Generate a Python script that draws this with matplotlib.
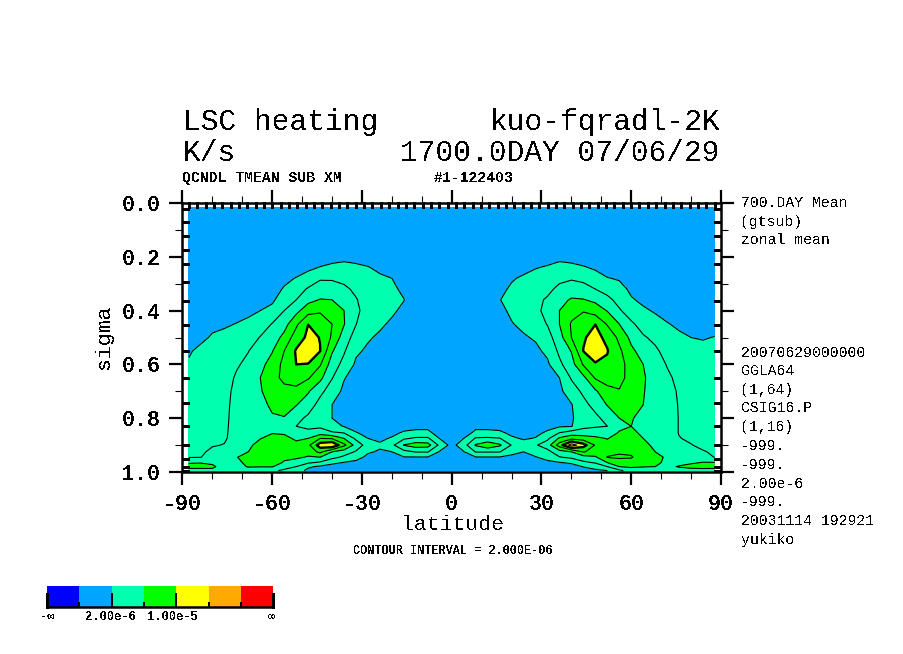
import numpy as np
import matplotlib
matplotlib.use("Agg")
import matplotlib.pyplot as plt
from matplotlib.colors import ListedColormap

plt.rcParams["text.antialiased"] = False
plt.rcParams["lines.antialiased"] = False
plt.rcParams["font.family"] = ["Liberation Mono", "DejaVu Sans Mono"]

# zonal mean heating (units of 1e-6 K/s)
lat = [-87.9, -84, -80, -76, -72, -68, -64, -60, -56, -52, -48, -44, -40, -36, -32, -28, -24, -20, -16, -12, -8, -4, 0,
       4, 8, 12, 16, 20, 24, 28, 32, 36, 40, 44, 48, 52, 56, 60, 64, 68, 72, 76, 80, 84, 87.9]
sigma = [0.016, 0.15, 0.20, 0.24, 0.28, 0.32, 0.36, 0.40, 0.45, 0.50, 0.55, 0.60, 0.65, 0.70, 0.75, 0.80, 0.83, 0.855,
         0.875, 0.90, 0.925, 0.945, 0.965, 0.98, 0.995]

# one list per latitude, top to bottom
heating = [
    [0, .1, .2, .3, .4, .5, .6, .8, 1, 1.3, 1.8, 2.2, 2.5, 2.8, 3, 3.2, 3.3, 3.4, 3.5, 3.6, 3.8, 3.9, 5.8, 6.8, 5],
    [0, .1, .2, .3, .4, .5, .7, .9, 1.2, 1.6, 2.4, 2.7, 2.9, 3, 3.1, 3.2, 3.3, 3.4, 3.5, 3.6, 3.75, 3.95, 5.9, 6.8, 5],
    [0, .1, .2, .3, .5, .6, .8, 1, 1.6, 2.2, 2.6, 2.9, 3.1, 3.2, 3.3, 3.4, 3.5, 3.6, 3.7, 3.9, 4.3, 4.6, 5.6, 6.4, 5.5],
    [0, .1, .2, .3, .5, .7, .9, 1.1, 1.8, 2.4, 2.8, 3.1, 3.3, 3.5, 3.6, 3.7, 3.75, 3.8, 3.85, 4.05, 4.3, 4.5, 4.7, 5, 4.5],
    [0, .1, .2, .4, .6, .8, 1, 1.4, 2.05, 2.6, 3.1, 3.8, 4.2, 4.4, 4.5, 4.5, 4.5, 4.5, 4.5, 4.6, 4.8, 5.9, 5.2, 5, 4.5],
    [0, .1, .2, .4, .6, .7, 1, 1.6, 2.4, 3.1, 3.95, 4.4, 4.7, 4.8, 4.8, 4.7, 4.6, 4.7, 4.9, 5.4, 6, 6.8, 6.8, 6.2, 4.5],
    [0, .1, .3, .4, .6, .9, 1.4, 2, 3, 4.1, 4.9, 5.5, 6, 5.8, 5.2, 4.7, 4.6, 5, 5.9, 7, 7.3, 7.2, 7, 6.1, 4.5],
    [0, .1, .3, .5, .9, 1.2, 1.7, 2.5, 4.1, 4.9, 5.9, 6.7, 7.3, 7.1, 6.5, 5.7, 5.3, 5.9, 6.8, 7.2, 7.2, 7.1, 6.9, 6.1, 4.5],
    [0, .1, .4, .9, 1.5, 2.2, 3, 4, 5.2, 6.6, 8, 8.6, 8.5, 7.4, 6.7, 5.9, 5.2, 5.8, 6.5, 7, 6.9, 6.4, 5.8, 5, 3.5],
    [0, .1, .5, 1.1, 2.1, 3.1, 4, 5.4, 7.6, 9, 10.2, 10, 8.8, 7.5, 6.1, 4.6, 4, 5, 5.7, 6.5, 6.8, 6.4, 5, 4, 3],
    [0, .1, .7, 1.6, 2.8, 4.2, 5.4, 7.2, 9.98, 10.4, 11.5, 9.9, 8.2, 6.2, 5, 3.6, 3.7, 4.4, 6, 7.5, 6.8, 5.8, 4.3, 2.3, 1.5],
    [0, .2, .9, 2.1, 3.8, 4.9, 6.1, 7.6, 9.8, 9.95, 10.05, 8.2, 6.5, 4.5, 3.3, 3, 3.6, 5.2, 8, 11, 8.5, 6, 3.7, 1.7, 1],
    [0, .2, 1.2, 2.5, 3.8, 4.8, 6, 7, 8, 7.7, 6.2, 5, 4.1, 3, 2, 2, 2.6, 4.3, 7.8, 11.8, 6, 4.6, 2.5, 1.2, .8],
    [0, .2, 1.5, 2.6, 3.6, 4.3, 5, 6, 6.1, 5, 4.2, 3.4, 2.1, 1.6, 1.5, 1.6, 1.9, 4, 6, 8.5, 5, 3.6, 1.9, 1.1, .7],
    [0, .2, 1.5, 2.3, 3.1, 3.7, 4.1, 4.4, 4.05, 3.2, 2.3, 1.7, 1.3, 1.1, 1.1, 1.2, 1.5, 2.1, 3.6, 5.2, 3.8, 2.6, 1.6, 1, .6],
    [0, .2, 1.2, 2.1, 2.7, 3.1, 3.3, 3.2, 2.7, 2.2, 1.7, 1.3, 1, .9, .9, 1, 1.2, 1.6, 2, 3.1, 2.2, 1.6, 1.1, .8, .5],
    [0, .1, .8, 1.6, 2.3, 2.7, 2.9, 2.8, 2.3, 1.7, 1.2, .9, .7, .6, .6, .7, .9, 1.2, 1.6, 2.3, 1.8, 1.3, .9, .6, .4],
    [0, .1, .5, 1.1, 2, 2.4, 2.6, 2.3, 1.7, 1.2, .8, .6, .5, .4, .4, .6, 1, 1.5, 2.2, 3.5, 2, 1.2, .8, .5, .3],
    [0, .1, .3, .7, 1.2, 1.6, 2.05, 1.6, 1.1, .7, .5, .4, .3, .3, .3, .5, 1.2, 2.3, 3.7, 6.1, 3.4, 1.9, 1, .6, .3],
    [0, 0, .1, .3, .5, .7, .8, .7, .5, .4, .3, .2, .2, .2, .2, .5, 1.4, 2.6, 4.3, 7, 4.1, 1.9, 1, .6, .3],
    [0, 0, .1, .2, .3, .4, .4, .4, .3, .3, .2, .2, .2, .2, .2, .5, 1.4, 2.6, 4.3, 6.8, 4.1, 1.9, 1, .6, .3],
    [0, 0, 0, .1, .1, .2, .2, .2, .2, .2, .1, .1, .1, .1, .1, .2, .5, 1, 1.9, 3.5, 1.8, 1, .6, .4, .2],
    [0, 0, 0, 0, .1, .1, .1, .1, .1, .1, .1, .1, .1, .1, .1, .1, .2, .5, .8, 1.3, .8, .5, .3, .2, .1],
    [0, 0, 0, .1, .1, .2, .2, .2, .2, .2, .1, .1, .1, .1, .1, .2, .3, .9, 2, 3.2, 1.9, 1, .6, .4, .2],
    [0, 0, .1, .2, .3, .4, .4, .4, .3, .3, .2, .2, .2, .2, .2, .5, 1.4, 2.6, 4.2, 6.2, 4.1, 1.9, 1, .6, .3],
    [0, 0, .1, .3, .4, .6, .7, .6, .5, .4, .3, .2, .2, .2, .2, .5, 1.4, 2.6, 4.3, 7.5, 4.1, 1.9, 1, .6, .3],
    [0, .1, .3, .6, 1.1, 1.5, 1.95, 1.6, 1.1, .7, .5, .4, .3, .3, .3, .5, 1.3, 2.4, 4.1, 6.3, 4.1, 1.9, 1, .6, .3],
    [0, .1, .4, .9, 1.8, 2.3, 2.5, 2.3, 1.9, 1.3, .9, .6, .5, .4, .4, .6, 1, 1.6, 2.3, 3.9, 2.4, 1.7, .9, .6, .3],
    [0, .1, .6, 1.4, 2.3, 2.8, 3, 2.9, 2.4, 1.8, 1.3, 1, .8, .6, .6, .8, .9, 1.2, 1.8, 2.8, 2, 1.4, .9, .6, .4],
    [0, .2, .9, 1.9, 2.7, 3.2, 3.6, 3.6, 3.1, 2.2, 1.6, 1.2, 1, .8, .8, 1, 1.2, 1.6, 2.1, 3.8, 2.7, 1.9, 1.2, .8, .5],
    [0, .2, 1.2, 2.2, 3, 3.6, 4.2, 4.5, 4.1, 3.2, 2.4, 1.7, 1.3, 1.1, 1.1, 1.2, 1.5, 2.3, 3.6, 5, 3.4, 2.6, 1.6, 1, .6],
    [0, .2, 1.6, 2.5, 3.6, 4.4, 5.4, 6, 6, 5.2, 4.4, 3.6, 2, 1.6, 1.4, 1.5, 1.8, 4.1, 6.3, 9, 5.2, 3.9, 1.9, 1.1, .7],
    [0, .2, 1.3, 2.5, 3.8, 5, 6.2, 7.3, 8.2, 8, 6.1, 5.2, 4.2, 3, 1.9, 1.8, 1.9, 5, 7.4, 13, 6, 4.4, 2.3, 1.2, .8],
    [0, .2, .9, 2.2, 3.6, 4.6, 6.1, 7.8, 9.7, 9.85, 10.05, 8.2, 5.5, 4.4, 3.4, 2.9, 3.5, 5, 7, 10.8, 8.1, 5.2, 3.6, 2.1, 1.1],
    [0, .1, .7, 1.7, 2.9, 4, 5.6, 7, 9.98, 10.5, 11.2, 9.8, 8.2, 5.7, 4.7, 3.5, 3.8, 5.1, 6.4, 7.8, 7.5, 5.7, 4.2, 2.6, 1.7],
    [0, .1, .4, 1, 2.1, 3.3, 4.5, 5.9, 7.8, 9.6, 10.1, 9.7, 8.8, 7.4, 6.1, 4.7, 4, 5, 5.9, 6.7, 7.4, 8.1, 6, 4, 2],
    [0, .1, .3, .8, 1.8, 2.7, 3.4, 4.2, 6, 7.5, 8.4, 8.7, 8.5, 7.9, 6.8, 6, 5.5, 6.2, 6.8, 7.2, 7.7, 8.4, 6.8, 6, 3.5],
    [0, .1, .2, .5, 1, 1.6, 2.2, 3.1, 4.3, 5.5, 6.4, 7.2, 7.4, 7.1, 6.7, 6.2, 6, 6.5, 6.9, 7.2, 7.6, 8.2, 7, 6.3, 5],
    [0, 0, .1, .3, .6, 1, 1.6, 2.3, 3.3, 4.2, 5.2, 6, 6.2, 6.1, 6, 5.2, 5.2, 5.6, 6, 6.5, 6.8, 6.8, 6.6, 6.1, 4.8],
    [0, 0, .1, .2, .4, .7, 1.2, 1.8, 2.7, 3.6, 4.3, 4.8, 5.2, 5.3, 5.3, 5.2, 5, 5.1, 5.3, 5.6, 6, 6.4, 6.4, 6, 4.6],
    [0, 0, .1, .2, .3, .5, .9, 1.4, 2.1, 2.8, 3.4, 3.9, 4.3, 4.6, 4.7, 4.6, 4.6, 4.6, 4.8, 5, 5.4, 5.8, 5.6, 5.4, 4.4],
    [0, 0, .1, .2, .3, .4, .7, 1.1, 1.7, 2.3, 2.8, 3.2, 3.6, 3.8, 3.9, 3.95, 3.95, 3.95, 4.05, 4.3, 4.5, 4.7, 5.2, 6.2, 4.8],
    [0, 0, .1, .1, .2, .3, .5, .9, 1.4, 2, 2.5, 2.8, 3, 3.2, 3.3, 3.4, 3.5, 3.6, 3.8, 4.05, 4.4, 4.7, 5.7, 6.7, 5],
    [0, 0, .1, .1, .2, .3, .4, .8, 1.2, 1.9, 2.4, 2.7, 2.9, 3, 3.1, 3.2, 3.3, 3.4, 3.5, 3.7, 4.1, 4.6, 6.1, 6.9, 5],
    [0, 0, .1, .1, .2, .3, .5, .8, 1.4, 2.05, 2.3, 2.5, 2.7, 2.9, 3, 3.1, 3.2, 3.3, 3.5, 3.9, 3.8, 3.95, 6.1, 6.8, 5],
]

# model levels and colour scale
sigma_levels = [0.024, 0.072, 0.124, 0.176, 0.227, 0.293, 0.366, 0.452, 0.551, 0.65, 0.743, 0.828, 0.898, 0.952, 0.981, 0.995]
tone_levels = [-1, 2, 6, 10, 20, 30, 99]
tone_colors = ["#00a5ff", "#00ffaf", "#00ff00", "#ffff00", "#ffaa00", "#ff0000"]
bar_colors = ["#0000ff"] + tone_colors
thin_lines = [2, 4, 6, 8, 12, 14]
side_labels = [
    ("700.DAY Mean", 203), ("(gtsub)", 222), ("zonal mean", 240),
    ("20070629000000", 353), ("GGLA64", 371), ("(1,64)", 390), ("CSIG16.P", 408), ("(1,16)", 427),
    ("-999.", 446), ("-999.", 465), ("2.00e-6", 484), ("-999.", 502), ("20031114 192921", 521), ("yukiko", 540),
]

W, H = 904, 654
fig = plt.figure(figsize=(W / 100, H / 100), dpi=100)


def label(x, y, s, size, **kw):
    kw.setdefault("va", "center")
    fig.text(x / W, 1 - y / H, s, fontsize=size * 0.72, **kw)


ax = fig.add_axes([182.5 / W, 1 - 472 / H, 538.5 / W, 269 / H])
values = np.array(heating).T
ax.contourf(lat, sigma, values, levels=tone_levels, colors=tone_colors, antialiased=False)
ax.contour(lat, sigma, values, levels=thin_lines, colors="black", linewidths=0.8)
ax.contour(lat, sigma, values, levels=[10], colors="black", linewidths=1.7)

# outward ticks on all sides, model grid marked inward on top and sides
ax.set_xticks(np.arange(-90, 91, 30))
ax.set_yticks(np.arange(0, 1.01, 0.2))
ax.set_yticklabels(["0.0", "0.2", "0.4", "0.6", "0.8", "1.0"], weight="bold")
ax.set_xticklabels(["-90", "-60", "-30", "0", "30", "60", "90"], weight="bold")
ax.tick_params(which="major", length=9.5, width=1.6, top=True, right=True, labelsize=15.6, pad=6.5)
ax.set_xticks(np.arange(-90, 91, 10), minor=True)
ax.set_yticks(np.arange(0.1, 1, 0.2), minor=True)
ax.tick_params(which="minor", length=5, width=0.8, top=True, right=True)
for s in ax.spines.values():
    s.set_linewidth(1.8)
for x in np.linspace(-87.86, 87.86, 64):
    ax.plot([x, x], [0, 0.015], color="black", lw=0.8, clip_on=False)
for y in sigma_levels:
    ax.plot([-90, -88], [y, y], color="black", lw=0.8)
    ax.plot([88, 90], [y, y], color="black", lw=0.8)
ax.set_xlim(-90, 90)
ax.set_ylim(1, 0)

label(183, 122, "LSC heating", 29.5)
label(720, 122, "kuo-fqradl-2K", 29.5, ha="right")
label(183, 153, "K/s", 29.5)
label(720, 153, "1700.0DAY 07/06/29", 29.5, ha="right")
label(182, 178, "QCNDL TMEAN SUB XM", 14.8, weight="bold")
label(434, 178, "#1-122403", 14.8, weight="bold")
label(453, 524, "latitude", 21.5, ha="center")
label(104, 337, "sigma", 21.5, ha="center", rotation=90)
label(453, 551, "CONTOUR INTERVAL = 2.000E-06", 11.9, ha="center", weight="bold")
for s, y in side_labels:
    label(741, y, s, 14.8)

# colour bar under the plot
cax = fig.add_axes([47 / W, 1 - 607 / H, 226.5 / W, 21 / H])
cax.pcolormesh(np.arange(8), [0, 1], [np.arange(7)], cmap=ListedColormap(bar_colors))
cax.set_xticks(np.arange(8))
cax.set_xticklabels([])
cax.set_yticks([])
cax.tick_params(axis="x", direction="in", length=3.5, width=1.4)
for side in ["top", "left", "right"]:
    cax.spines[side].set_visible(False)
cax.spines["bottom"].set_linewidth(1.8)
cax.plot([0, 0], [0, 0.62], color="black", lw=1.8, clip_on=False)
cax.plot([7, 7], [0, 0.62], color="black", lw=1.8, clip_on=False)
cax.plot([2, 2], [0, 0.62], color="black", lw=1.4)
cax.plot([4, 4], [0, 0.62], color="black", lw=1.4)
for x, s in [(47, "-∞"), (111, "2.00e-6"), (173, "1.00e-5"), (272, "∞")]:
    label(x, 617, s, 12.1, ha="center", weight="bold")

fig.savefig("out.png", dpi=100)
